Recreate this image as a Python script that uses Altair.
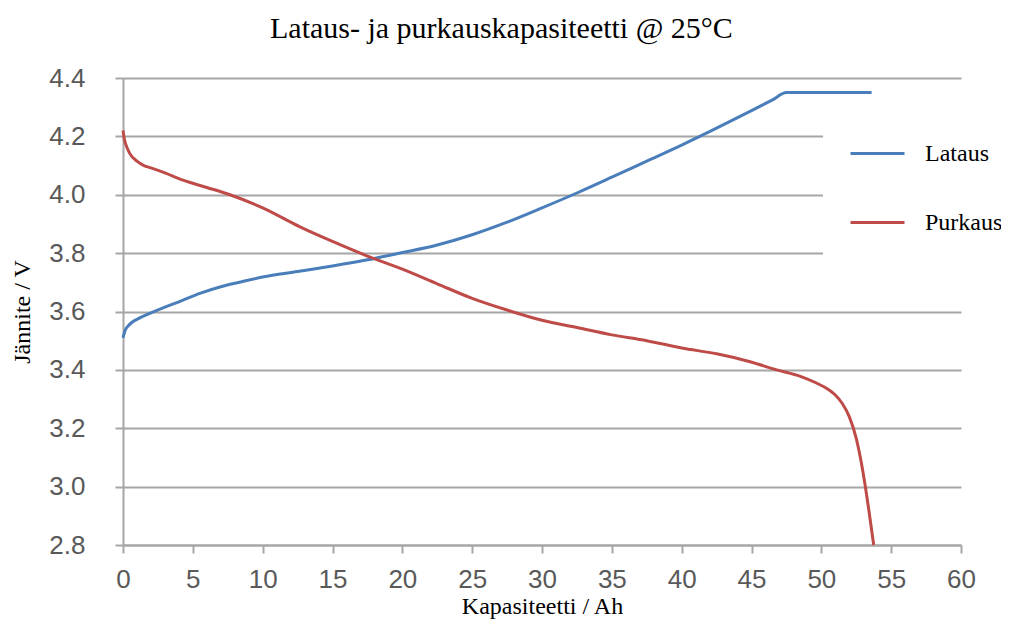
import altair as alt
import pandas as pd

lataus_x = [0, 0.15, 0.4, 0.7, 1.2, 2, 3, 4, 5.5, 7, 8.5, 10, 12.5, 15, 17.5, 20,
            22.5, 25, 27.5, 30, 32.5, 35, 37.5, 40, 42.5, 45, 46.5, 47.5, 53.6]
lataus_y = [3.51, 3.535, 3.552, 3.565, 3.578, 3.595, 3.615, 3.633, 3.662, 3.685, 3.702,
            3.718, 3.737, 3.756, 3.777, 3.802, 3.828, 3.863, 3.906, 3.955, 4.006, 4.06,
            4.115, 4.17, 4.228, 4.288, 4.325, 4.35, 4.35]

purkaus_x = [0, 0.1, 0.3, 0.5, 1, 1.5, 2, 3, 4.3, 6, 7.66, 10, 12.67, 15, 17.5, 20,
             22.5, 25, 27.5, 30, 32.5, 35, 37.5, 40, 42.5, 44.9, 46.8, 48.5, 49.65,
             50.5, 51, 51.5, 52, 52.5, 53, 53.4, 53.75]
purkaus_y = [4.22, 4.19, 4.16, 4.14, 4.115, 4.10, 4.092, 4.075, 4.05, 4.025, 4.0, 3.955,
             3.89, 3.84, 3.79, 3.745, 3.695, 3.645, 3.605, 3.57, 3.545, 3.52, 3.50, 3.475,
             3.455, 3.428, 3.40, 3.378, 3.355, 3.333, 3.314, 3.285, 3.24, 3.165, 3.045,
             2.92, 2.8]

series_names = ["Lataus", "Purkaus"]
series_colors = ["#4a7ebb", "#be4b48"]
x_ticks = list(range(0, 61, 5))
y_ticks = [2.8, 3.0, 3.2, 3.4, 3.6, 3.8, 4.0, 4.2, 4.4]

rows = []
for i, (x, y) in enumerate(zip(lataus_x, lataus_y)):
    rows.append({"sarja": "Lataus", "x": x, "y": y, "i": i})
for i, (x, y) in enumerate(zip(purkaus_x, purkaus_y)):
    rows.append({"sarja": "Purkaus", "x": x, "y": y, "i": i})
df = pd.DataFrame(rows)

serif = "Liberation Serif"
sans = "Liberation Sans"
gray = "#a6a6a6"

chart = alt.Chart(df).mark_line(strokeWidth=3, interpolate="monotone").encode(
    x=alt.X("x:Q", title="Kapasiteetti / Ah",
            scale=alt.Scale(domain=[0, 60], nice=False, zero=False),
            axis=alt.Axis(values=x_ticks, grid=False, tickSize=8, labelPadding=13,
                          titlePadding=2, labelFlush=False)),
    y=alt.Y("y:Q", title="Jännite / V",
            scale=alt.Scale(domain=[2.8, 4.4], nice=False, zero=False),
            axis=alt.Axis(values=y_ticks, format=".1f", tickSize=8, labelPadding=30,
                          titlePadding=14, labelFlush=False)),
    color=alt.Color("sarja:N",
                    scale=alt.Scale(domain=series_names, range=series_colors),
                    legend=alt.Legend(title=None, orient="none", legendX=700, legendY=21,
                                      symbolType="stroke", symbolSize=2916,
                                      symbolStrokeWidth=3, labelFont=serif,
                                      labelFontSize=24, labelColor="#000000",
                                      labelOffset=19, rowPadding=28, padding=26,
                                      fillColor="white")),
    order="i:Q",
).properties(
    width=838,
    height=467,
    title=alt.TitleParams("Lataus- ja purkauskapasiteetti @ 25°C", font=serif,
                          fontSize=30, fontWeight="normal", color="#000000",
                          anchor="start", frame="group", dx=147, offset=21),
    autosize=alt.AutoSizeParams(type="none"),
    padding={"left": 115, "top": 70, "right": 40, "bottom": 78},
).configure_view(stroke=None).configure_axis(
    domainColor=gray, domainWidth=2, gridColor=gray, gridWidth=2,
    tickColor=gray, tickWidth=2,
    labelFont=sans, labelFontSize=26, labelColor="#595959",
    titleFont=serif, titleFontSize=24, titleFontWeight="normal", titleColor="#000000",
)

chart.save("out.html", embed_options={"renderer": "svg", "actions": False})
